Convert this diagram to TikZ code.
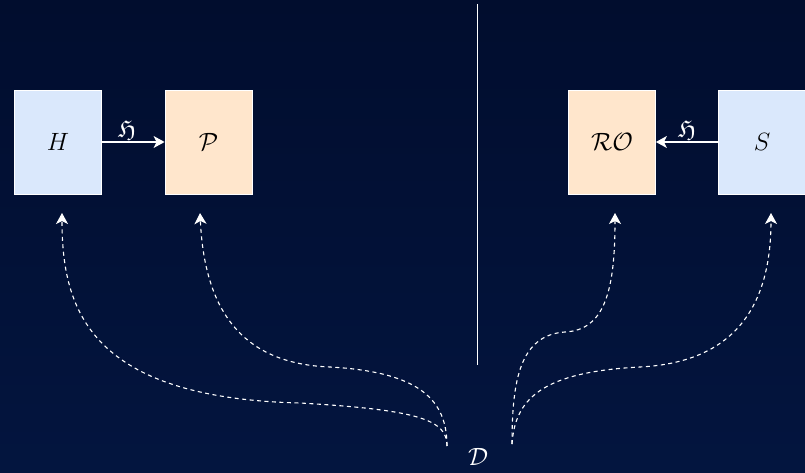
\documentclass[tikz,border=0pt]{standalone}
\usepackage{fix-cm}
\usepackage{amsmath,amssymb}
\usepackage{xcolor}
\usepackage{tikz}
\usetikzlibrary{arrows.meta,positioning,calc}
\definecolor{cBgTop}{HTML}{010D2E}
\definecolor{cBgBot}{HTML}{03153F}
\definecolor{cBlueBox}{HTML}{DAE8FC}
\definecolor{cPeach}{HTML}{FFE6CC}
\definecolor{cInk}{HTML}{000000}
\tikzset{
  pbox/.style={draw=white,fill=#1,line width=0.8pt,minimum width=87pt,minimum height=104pt,inner sep=0pt,text=cInk,font=\fontsize{25}{30}\selectfont},
  pbox/.default=cBlueBox,
  arr/.style={-{Stealth[length=11pt,width=12pt,inset=3pt]},line width=1.1pt,color=white},
  darr/.style={-{Stealth[length=11pt,width=12pt,inset=3pt]},line width=1.1pt,color=white,dash pattern=on 4pt off 3.5pt},
  lbl/.style={font=\fontsize{25}{30}\selectfont,text=white,inner sep=1pt},
}

\begin{document}
\begin{tikzpicture}[x=1pt,y=-1pt]
  \useasboundingbox (0,0) rectangle (805,473);
  \shade[top color=cBgTop,bottom color=cBgBot] (0,0) rectangle (805,473);
  % left side
  \node[pbox] (hon) at (58,142) {$H$};
  \node[pbox=cPeach] (prv) at (208.5,142) {$\mathcal{P}$};
  \draw[arr] (hon) -- node[lbl,above=1pt,xshift=-6pt] {$\mathfrak{H}$} (prv);
  % right side
  \node[pbox=cPeach] (ro) at (612,142) {$\mathcal{RO}$};
  \node[pbox] (sim) at (762,142) {$S$};
  \draw[arr] (sim) -- node[lbl,above=1pt] {$\mathfrak{H}$} (ro);
  % divider
  \coordinate (divtop) at (477,4);
  \coordinate (divbot) at (477,365);
  \draw[white,line width=1pt] (divtop) -- (divbot);
  % distinguisher
  \node[lbl] (dist) at (478,457) {$\mathcal{D}$};
  \coordinate (dl) at (447,446);
  \coordinate (dr) at (512,444);
  \coordinate (hin) at (62,213);
  \coordinate (pin) at (200,213);
  \coordinate (roin) at (615,213);
  \coordinate (sin) at (771,213);
  \draw[darr] (dl) .. controls (447,420) and (420,410) .. (300,403)
              .. controls (90,398) and (62,310) .. (hin);
  \draw[darr] (dl) .. controls (447,400) and (420,372) .. (330,367)
              .. controls (250,364) and (205,320) .. (pin);
  \draw[darr] (dr) .. controls (512,380) and (520,335) .. (565,332)
              .. controls (605,330) and (615,290) .. (roin);
  \draw[darr] (dr) .. controls (515,400) and (540,372) .. (640,367)
              .. controls (740,362) and (771,300) .. (sin);
\end{tikzpicture}
\end{document}
